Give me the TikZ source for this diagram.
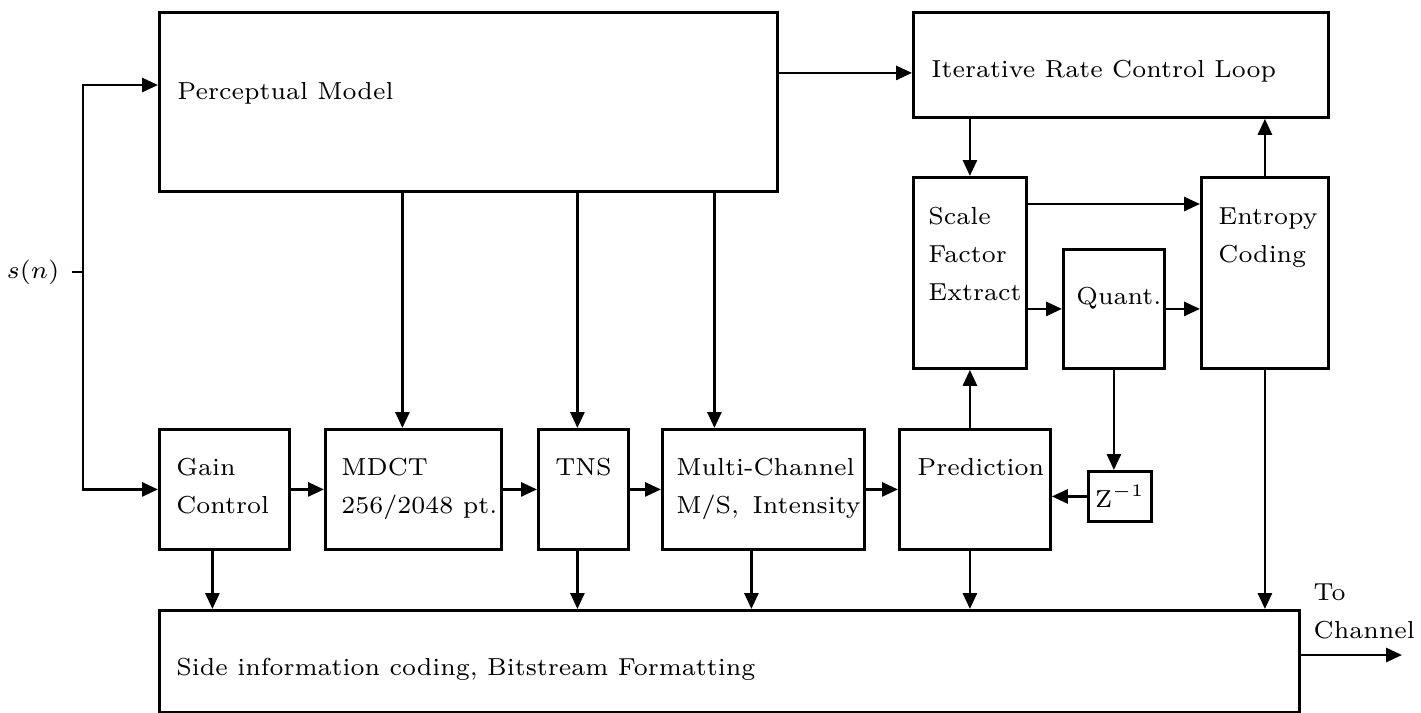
\documentclass[tikz,border=0pt]{standalone}
\usepackage{fontspec}
\usetikzlibrary{arrows.meta}

% top-aligned box text: width, height, left gap, top gap, text
\newcommand{\boxlabel}[5]{\parbox[t][#2][t]{#1}{\vspace*{#4}\raggedright\leftskip=#3\relax #5}}

\begin{document}
\begin{tikzpicture}[x=1cm, y=1cm, >={Triangle[length=1.6mm, width=1.4mm]},
    font=\fontsize{7}{10.8}\selectfont,
    blk/.style={draw, thick, anchor=north west, inner sep=0pt},
    wire/.style={thick}]
    % 1 px of the scan = 0.01 cm
    \useasboundingbox (0,0) rectangle (14.21,-7.12);

    % Khoi phia tren
    \node[blk] (pm) at (1.58,-0.11) {\boxlabel{6.18cm}{1.79cm}{0.18cm}{0.70cm}{Perceptual Model}};
    \node[blk] (ircl) at (9.12,-0.11) {\boxlabel{4.15cm}{1.05cm}{0.18cm}{0.48cm}{Iterative Rate Control Loop}};
    \node[blk] (sfe) at (9.12,-1.76) {\boxlabel{1.13cm}{1.91cm}{0.15cm}{0.30cm}{Scale\\Factor\\Extract}};
    \node[blk] (ent) at (12.00,-1.76) {\boxlabel{1.27cm}{1.91cm}{0.17cm}{0.30cm}{Entropy\\Coding}};
    \node[blk] (qnt) at (10.62,-2.48) {\boxlabel{1.01cm}{1.19cm}{0.13cm}{0.38cm}{Quant.}};
    \node[blk, minimum width=0.63cm, minimum height=0.50cm] (z) at (10.87,-4.70) {$\mathrm{Z}^{-1}$};

    % Hang khoi phia duoi
    \node[blk] (gc) at (1.58,-4.28) {\boxlabel{1.30cm}{1.20cm}{0.17cm}{0.29cm}{Gain\\Control}};
    \node[blk] (mdct) at (3.24,-4.28) {\boxlabel{1.76cm}{1.20cm}{0.16cm}{0.29cm}{MDCT\\256/2048~pt.}};
    \node[blk] (tns) at (5.37,-4.28) {\boxlabel{0.90cm}{1.20cm}{0.17cm}{0.29cm}{TNS}};
    \node[blk] (mc) at (6.61,-4.28) {\boxlabel{2.02cm}{1.20cm}{0.14cm}{0.29cm}{Multi-Channel\\M/S,~\,Intensity}};
    \node[blk] (pred) at (8.98,-4.28) {\boxlabel{1.51cm}{1.20cm}{0.18cm}{0.29cm}{Prediction}};
    \node[blk] (side) at (1.58,-6.09) {\boxlabel{11.40cm}{1.02cm}{0.17cm}{0.48cm}{Side information coding, Bitstream Formatting}};

    % Tin hieu vao
    \node (sn) at (0.33,-2.72) {$s(n)$};
    \coordinate (split) at (0.83,-2.72);
    \draw[wire] (sn.east) -- (split);
    \draw[wire,->] (split) |- ([yshift=-0.74cm]pm.north west);
    \draw[wire,->] (split) |- (gc.west);

    % Tu Perceptual Model
    \draw[wire,->] ([yshift=-0.08cm]ircl.west -| pm.east) -- ([yshift=-0.08cm]ircl.west);
    \draw[wire,->] ([xshift=-0.11cm]mdct.north |- pm.south) -- ([xshift=-0.11cm]mdct.north);
    \draw[wire,->] ([xshift=-0.06cm]tns.north |- pm.south) -- ([xshift=-0.06cm]tns.north);
    \draw[wire,->] ([xshift=-0.49cm]mc.north |- pm.south) -- ([xshift=-0.49cm]mc.north);

    % Chuoi xu ly
    \draw[wire,->] (gc.east) -- (mdct.west);
    \draw[wire,->] (mdct.east) -- (tns.west);
    \draw[wire,->] (tns.east) -- (mc.west);
    \draw[wire,->] (mc.east) -- (pred.west);
    \draw[wire,->] (z.west) -- (z.west -| pred.east);

    % Vong dieu khien toc do
    \draw[wire,->] (sfe.north |- ircl.south) -- (sfe.north);
    \draw[wire,->] (ent.north) -- (ent.north |- ircl.south);
    \draw[wire,->] ([yshift=-0.28cm]sfe.north east) -- ([yshift=-0.28cm]sfe.north east -| ent.west);
    \draw[wire,->] (qnt.west -| sfe.east) -- (qnt.west);
    \draw[wire,->] (qnt.east) -- (qnt.east -| ent.west);
    \draw[wire,->] (qnt.south) -- (qnt.south |- z.north);
    \draw[wire,->] (sfe.south |- pred.north) -- (sfe.south);

    % Xuong khoi side information
    \draw[wire,->] ([xshift=-0.12cm]gc.south) -- ([xshift=-0.12cm]gc.south |- side.north);
    \draw[wire,->] ([xshift=-0.06cm]tns.south) -- ([xshift=-0.06cm]tns.south |- side.north);
    \draw[wire,->] ([xshift=-0.12cm]mc.south) -- ([xshift=-0.12cm]mc.south |- side.north);
    \draw[wire,->] (sfe.south |- pred.south) -- (sfe.south |- side.north);
    \draw[wire,->] (ent.south) -- (ent.south |- side.north);

    % Dau ra
    \coordinate (out) at (14.02,-6.55);
    \draw[wire,->] (side.east |- out) -- (out);
    \node[anchor=north west, align=left, inner sep=0pt] (tc) at (13.13,-5.83) {To\\Channel};
\end{tikzpicture}
\end{document}
